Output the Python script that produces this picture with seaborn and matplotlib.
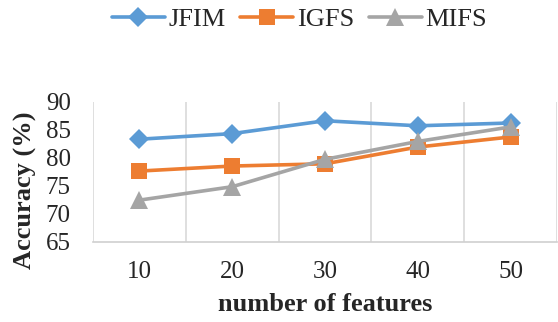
import matplotlib
matplotlib.use("Agg")
import matplotlib.pyplot as plt
import numpy as np
import pandas as pd
import seaborn as sns

features = ["10", "20", "30", "40", "50"]
jfim = [83.3, 84.3, 86.6, 85.7, 86.2]
igfs = [77.6, 78.5, 78.9, 81.9, 83.7]
mifs = [72.4, 74.8, 79.7, 82.9, 85.5]

methods = ["JFIM", "IGFS", "MIFS"]
colors = {"JFIM": "#5B9BD5", "IGFS": "#ED7D31", "MIFS": "#A5A5A5"}
markers = {"JFIM": "D", "IGFS": "s", "MIFS": "^"}
sizes = {"JFIM": 10.5, "IGFS": 12, "MIFS": 13}

df = pd.DataFrame({
    "features": features * 3,
    "acc": jfim + igfs + mifs,
    "method": [m for m in methods for _ in features],
})

sns.set_style("white")
plt.rcParams["font.family"] = ["Liberation Serif", "DejaVu Serif"]

fig = plt.figure(figsize=(5.58, 3.22), dpi=100)
ax = fig.add_axes([0.1667, 0.25, 0.8315, 0.434])

for m in methods:
    sub = df[df.method == m]
    sns.lineplot(data=sub, x="features", y="acc", ax=ax, color=colors[m],
                 marker=markers[m], markersize=sizes[m], markeredgewidth=0,
                 linewidth=2.6, label=m, sort=False)

ax.set_xlim(-0.5, 4.5)
ax.set_ylim(65, 90)
ax.set_yticks(np.arange(65, 91, 5))
ax.set_xticks(np.arange(-0.5, 4.6, 1), minor=True)
ax.grid(False)
ax.grid(True, which="minor", axis="x", color="#D9D9D9", linewidth=1.2)
ax.tick_params(which="both", length=0)
ax.tick_params(axis="y", labelsize=18, pad=16)
ax.tick_params(axis="x", labelsize=18, pad=14)
for s in ["top", "right", "left"]:
    ax.spines[s].set_visible(False)
ax.spines["bottom"].set_color("#D0D0D0")
ax.spines["bottom"].set_linewidth(1.2)

ax.set_xlabel("number of features", fontsize=19, fontweight="bold")
ax.set_ylabel("Accuracy (%)", fontsize=19, fontweight="bold")
ax.xaxis.set_label_coords(0.5, -0.37)
ax.yaxis.set_label_coords(-0.12, 0.368)

ax.legend(loc="upper center", bbox_to_anchor=(0.537, 1.01), bbox_transform=fig.transFigure,
          ncol=3, frameon=False, fontsize=19, handlelength=2.0, columnspacing=0.55,
          handletextpad=0.15, borderaxespad=0.0)

fig.savefig("out.png", dpi=100)
